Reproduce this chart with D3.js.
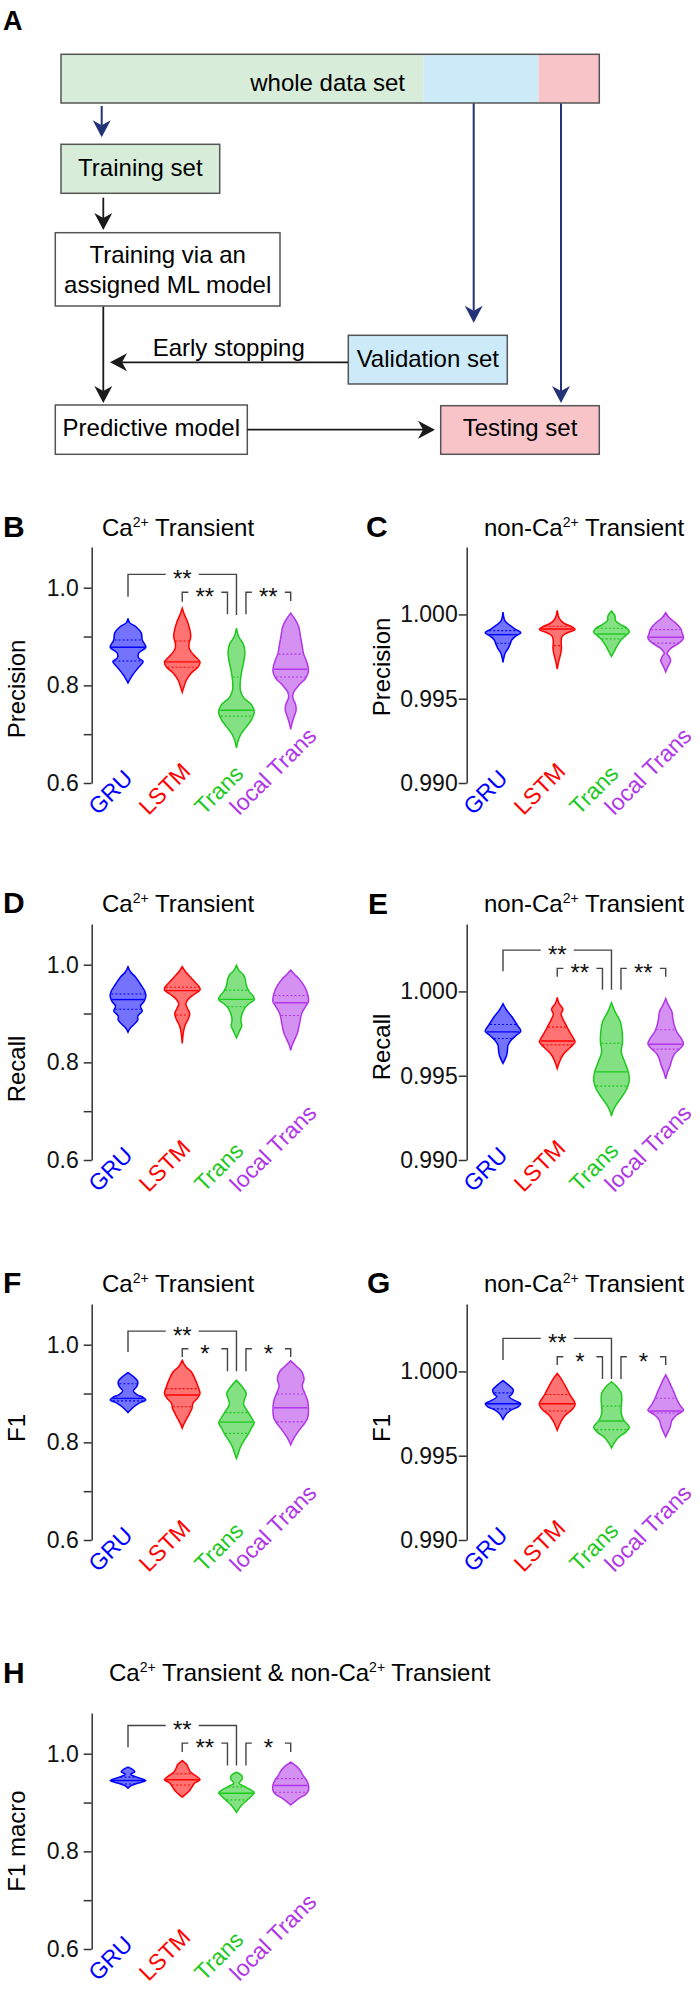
<!DOCTYPE html>
<html><head><meta charset="utf-8">
<script src="https://cdn.jsdelivr.net/npm/d3@7"></script>
<style>body{margin:0;background:#fff} svg{display:block} text{font-family:"Liberation Sans",Arial,Helvetica,sans-serif}</style>
</head><body><svg id="c" width="700" height="1991"></svg>
<script>
// ---------------- data ----------------
const categories = ["GRU","LSTM","Trans","local Trans"];
const catColors = ["#0000ff","#ff0000","#1ec81e","#b036e8"];
const leftTicks = [0.6,0.7,0.8,0.9,1.0];
const leftTickLabels = ["0.6","","0.8","","1.0"];
const rightTicks = [0.990,0.995,1.000];
const rightTickLabels = ["0.990","0.995","1.000"];

// violin profiles: [value, relative half-width]; quartiles: [q3, median, q1]
const precCaShapes = [
 [[0.937,0],[0.928,0.1],[0.92,0.45],[0.907,0.75],[0.893,0.8],[0.878,1],[0.866,0.6],[0.856,0.6],[0.849,0.85],[0.835,0.55],[0.818,0.2],[0.805,0]],
 [[0.958,0],[0.945,0.12],[0.93,0.3],[0.915,0.42],[0.9,0.48],[0.885,0.38],[0.875,0.4],[0.862,0.65],[0.848,1],[0.838,0.9],[0.825,0.5],[0.81,0.22],[0.795,0.08],[0.786,0]],
 [[0.917,0],[0.9,0.12],[0.885,0.38],[0.87,0.47],[0.85,0.42],[0.83,0.3],[0.81,0.22],[0.79,0.22],[0.775,0.4],[0.76,0.85],[0.745,1],[0.73,0.85],[0.715,0.55],[0.7,0.25],[0.685,0.08],[0.672,0]],
 [[0.948,0],[0.935,0.25],[0.92,0.45],[0.9,0.55],[0.88,0.65],[0.865,0.72],[0.85,0.88],[0.83,1],[0.815,0.85],[0.8,0.45],[0.785,0.15],[0.775,0.12],[0.76,0.28],[0.748,0.3],[0.735,0.18],[0.72,0.06],[0.71,0]]
];
const precCaQuart = [[0.893,0.878,0.850],[0.891,0.848,0.837],[0.817,0.749,0.737],[0.864,0.833,0.817]];
const precCaSig = [["GRU","Trans","**",1.0273,0.9816,0.9443],["LSTM","Trans","**",0.9906,0.9714,0.9457],["Trans","local Trans","**",0.9906,0.9457,0.9729]];

const precNonShapes = [
 [[1.00014,0],[0.9996,0.12],[0.99935,0.4],[0.99912,0.7],[0.99892,1],[0.9987,0.7],[0.9985,0.5],[0.9983,0.42],[0.998,0.3],[0.9977,0.12],[0.99715,0]],
 [[1.00024,0],[0.9998,0.1],[0.9995,0.35],[0.99925,0.85],[0.9991,1],[0.9989,0.55],[0.9987,0.28],[0.9984,0.22],[0.998,0.24],[0.9977,0.2],[0.9972,0.08],[0.99675,0]],
 [[1.0002,0],[0.9999,0.2],[0.99965,0.22],[0.9994,0.5],[0.9992,0.85],[0.99895,1],[0.9987,0.75],[0.9985,0.55],[0.9982,0.35],[0.9979,0.2],[0.99751,0]],
 [[1.0001,0],[0.9998,0.2],[0.9995,0.55],[0.99915,0.85],[0.9989,0.92],[0.9986,1],[0.9983,0.75],[0.998,0.3],[0.99768,0.08],[0.9975,0.2],[0.99725,0.28],[0.9969,0.12],[0.99659,0]]
];
const precNonQuart = [[0.99904,0.99880,0.99829],[0.9993,0.99914,0.99815],[0.99918,0.99884,0.99855],[0.9991,0.99865,0.9983]];
const precNonSig = [];

const recCaShapes = [
 [[0.996,0],[0.985,0.15],[0.975,0.42],[0.96,0.7],[0.945,0.95],[0.935,1],[0.925,0.9],[0.915,0.7],[0.905,0.8],[0.895,0.55],[0.887,0.55],[0.878,0.35],[0.87,0.12],[0.862,0]],
 [[0.996,0],[0.985,0.2],[0.975,0.45],[0.965,0.7],[0.955,0.95],[0.948,1],[0.94,0.7],[0.93,0.35],[0.92,0.2],[0.91,0.3],[0.9,0.42],[0.89,0.35],[0.875,0.15],[0.86,0.06],[0.839,0]],
 [[0.999,0],[0.988,0.15],[0.98,0.38],[0.97,0.5],[0.958,0.55],[0.945,0.72],[0.935,0.95],[0.928,1],[0.92,0.7],[0.91,0.45],[0.895,0.28],[0.885,0.25],[0.875,0.3],[0.865,0.18],[0.85,0]],
 [[0.989,0],[0.98,0.22],[0.97,0.5],[0.955,0.78],[0.94,0.95],[0.925,1],[0.915,0.85],[0.9,0.62],[0.88,0.5],[0.86,0.38],[0.845,0.2],[0.835,0.08],[0.8245,0]]
];
const recCaQuart = [[0.94,0.9286,0.9088],[0.9537,0.947,0.897],[0.948,0.929,0.914],[0.937,0.922,0.896]];
const recCaSig = [];

const recNonShapes = [
 [[0.99927,0],[0.9989,0.2],[0.9985,0.5],[0.998,0.8],[0.99765,1],[0.9974,0.75],[0.9971,0.45],[0.9968,0.28],[0.9965,0.25],[0.9962,0.2],[0.99573,0]],
 [[0.99965,0],[0.9993,0.1],[0.99895,0.32],[0.99865,0.22],[0.9983,0.35],[0.998,0.5],[0.9976,0.7],[0.9972,0.92],[0.997,1],[0.9968,0.85],[0.9965,0.55],[0.9962,0.3],[0.9958,0.12],[0.99542,0]],
 [[0.99933,0],[0.9988,0.2],[0.9982,0.5],[0.9976,0.6],[0.997,0.62],[0.9964,0.55],[0.9958,0.75],[0.9952,0.95],[0.9947,1],[0.9942,0.85],[0.9937,0.55],[0.9932,0.22],[0.9929,0.08],[0.9926,0]],
 [[0.99958,0],[0.9992,0.15],[0.9988,0.35],[0.9984,0.4],[0.998,0.48],[0.9976,0.62],[0.9972,0.88],[0.9969,1],[0.9966,0.8],[0.9963,0.5],[0.996,0.36],[0.9956,0.25],[0.9952,0.1],[0.99481,0]]
];
const recNonQuart = [[0.99804,0.9976,0.99721],[0.99788,0.99706,0.99683],[0.99692,0.99523,0.99438],[0.99773,0.99687,0.99658]];
const recNonSig = [["GRU","Trans","**",1.00245,1.0012,1.0001],["LSTM","Trans","**",1.00137,1.00087,1.0001],["Trans","local Trans","**",1.00137,1.0001,1.00087]];

const f1CaShapes = [
 [[0.943,0],[0.935,0.3],[0.925,0.55],[0.915,0.5],[0.905,0.3],[0.898,0.5],[0.892,0.85],[0.887,1],[0.88,0.6],[0.872,0.3],[0.861,0]],
 [[0.968,0],[0.955,0.2],[0.945,0.5],[0.93,0.72],[0.915,0.88],[0.9,1],[0.89,0.85],[0.88,0.6],[0.87,0.55],[0.86,0.42],[0.848,0.25],[0.838,0.1],[0.829,0]],
 [[0.927,0],[0.915,0.3],[0.9,0.55],[0.888,0.45],[0.878,0.4],[0.865,0.6],[0.85,0.85],[0.84,1],[0.83,0.85],[0.818,0.68],[0.805,0.45],[0.79,0.22],[0.775,0.08],[0.767,0]],
 [[0.967,0],[0.955,0.35],[0.945,0.62],[0.93,0.75],[0.915,0.65],[0.9,0.8],[0.885,0.95],[0.865,1],[0.85,0.95],[0.84,0.8],[0.825,0.48],[0.81,0.2],[0.795,0]]
];
const f1CaQuart = [[0.92,0.89,0.885],[0.91,0.897,0.873],[0.861,0.8415,0.8184],[0.899,0.871,0.842]];
const f1CaSig = [["GRU","Trans","**",1.0278,0.985,0.9455],["LSTM","Trans","*",0.9918,0.9747,0.9455],["Trans","local Trans","*",0.9918,0.9455,0.9747]];

const f1NonShapes = [
 [[0.99945,0],[0.9992,0.3],[0.9989,0.58],[0.99865,0.5],[0.9985,0.35],[0.99825,0.7],[0.99808,1],[0.9979,0.85],[0.9977,0.45],[0.9975,0.2],[0.99716,0]],
 [[0.99988,0],[0.9996,0.2],[0.9992,0.42],[0.9988,0.62],[0.9985,0.78],[0.9982,0.97],[0.998,1],[0.9977,0.8],[0.9974,0.45],[0.997,0.2],[0.99651,0]],
 [[0.99939,0],[0.9991,0.3],[0.9987,0.55],[0.9983,0.58],[0.9979,0.55],[0.9975,0.55],[0.9971,0.7],[0.9967,1],[0.9964,0.8],[0.9961,0.4],[0.9957,0.12],[0.99547,0]],
 [[0.9998,0],[0.9995,0.15],[0.9991,0.32],[0.9988,0.45],[0.9984,0.6],[0.998,0.8],[0.9977,1],[0.9974,0.6],[0.9971,0.35],[0.9967,0.25],[0.99612,0]]
];
const f1NonQuart = [[0.99873,0.99808,0.99778],[0.99863,0.99808,0.99765],[0.99794,0.99706,0.99655],[0.99841,0.99765,0.99753]];
const f1NonSig = [["GRU","Trans","**",1.00196,1.00068,0.99955],["LSTM","Trans","*",1.00087,1.00038,0.99955],["Trans","local Trans","*",1.00087,0.99955,1.00038]];

const f1MacroShapes = [
 [[0.9726,0],[0.968,0.25],[0.963,0.38],[0.958,0.15],[0.953,0.4],[0.945,1],[0.94,0.6],[0.935,0.2],[0.9295,0]],
 [[0.986,0],[0.978,0.25],[0.97,0.35],[0.962,0.48],[0.955,0.75],[0.947,1],[0.94,0.7],[0.932,0.55],[0.922,0.35],[0.911,0]],
 [[0.962,0],[0.955,0.3],[0.948,0.32],[0.94,0.15],[0.933,0.45],[0.925,0.85],[0.92,1],[0.912,0.8],[0.905,0.6],[0.895,0.3],[0.88,0]],
 [[0.983,0],[0.975,0.3],[0.965,0.55],[0.955,0.7],[0.945,0.9],[0.935,1],[0.925,1],[0.917,0.85],[0.908,0.45],[0.895,0]]
];
const f1MacroQuart = [[0.952,0.945,0.938],[0.959,0.9466,0.936],[0.932,0.919,0.9055],[0.949,0.935,0.921]];
const f1MacroSig = [["GRU","Trans","**",1.0578,1.0135,0.976],["LSTM","Trans","**",1.0216,1.0033,0.976],["Trans","local Trans","*",1.0216,0.976,1.0033]];

// flowchart content
const splitNames = ["whole data set","",""];
const splitFractions = [0.673,0.214,0.113];
const splitColors = ["#d7edda","#cdeaf8","#f8c4c8"];

// ---------------- drawing ----------------
const svg = d3.select("#c");
const FONT = '"Liberation Sans", Arial, Helvetica, sans-serif';

// ---- Panel A: flowchart ----
const A = svg.append("g");
A.append("text").attr("x",3).attr("y",29.5).attr("font-size",27).attr("font-weight","bold").text("A");

const barX = d3.scaleLinear().domain([0,1]).range([61,599.3]);
const barY0 = 54.3, barH = 48.7;
let acc = 0;
splitFractions.forEach((f,i)=>{
  A.append("rect").attr("x",barX(acc)).attr("y",barY0).attr("width",barX(acc+f)-barX(acc)).attr("height",barH).attr("fill",splitColors[i]);
  acc += f;
});
A.append("rect").attr("x",barX(0)).attr("y",barY0).attr("width",barX(1)-barX(0)).attr("height",barH).attr("fill","none").attr("stroke","#555").attr("stroke-width",1.5);
A.append("text").attr("x",405).attr("y",90.7).attr("text-anchor","end").attr("font-size",24).text(splitNames[0]);

const boxes = [
  {x:61,y:144.3,w:158.7,h:49,fill:splitColors[0],lines:["Training set"],base:[176]},
  {x:55.3,y:232.7,w:224.7,h:73.3,fill:"#fff",lines:["Training via an","assigned ML model"],base:[263.3,292.7]},
  {x:348.3,y:335.3,w:159,h:48.7,fill:splitColors[1],lines:["Validation set"],base:[366.7]},
  {x:55.3,y:405,w:192,h:49.3,fill:"#fff",lines:["Predictive model"],base:[436]},
  {x:440.7,y:405.7,w:158.6,h:48.6,fill:splitColors[2],lines:["Testing set"],base:[436]}
];
boxes.forEach(b=>{
  A.append("rect").attr("x",b.x).attr("y",b.y).attr("width",b.w).attr("height",b.h).attr("fill",b.fill).attr("stroke","#555").attr("stroke-width",1.5);
  b.lines.forEach((l,i)=>A.append("text").attr("x",b.x+b.w/2).attr("y",b.base[i]).attr("text-anchor","middle").attr("font-size",24).text(l));
});
A.append("text").attr("x",152.7).attr("y",356).attr("font-size",24).text("Early stopping");

function arrow(x1,y1,x2,y2,color,w){
  const dx=x2-x1, dy=y2-y1, L=Math.hypot(dx,dy), ux=dx/L, uy=dy/L, px=-uy, py=ux;
  const hl=17, hw=9, notch=12;
  A.append("line").attr("x1",x1).attr("y1",y1).attr("x2",x2-ux*notch).attr("y2",y2-uy*notch).attr("stroke",color).attr("stroke-width",w);
  const pts=[[x2,y2],[x2-ux*hl+px*hw,y2-uy*hl+py*hw],[x2-ux*notch,y2-uy*notch],[x2-ux*hl-px*hw,y2-uy*hl-py*hw]];
  A.append("path").attr("d","M"+pts.map(p=>p.join(",")).join("L")+"Z").attr("fill",color);
}
const NAVY="#233377", BLK="#1a1a1a";
arrow(101.7,106,101.7,137.3,NAVY,2);
arrow(473.7,103.5,473.7,322.7,NAVY,2);
arrow(561,103.5,561,403,NAVY,2);
arrow(103.3,197.7,103.3,230,BLK,1.8);
arrow(103.3,306.5,103.3,403,BLK,1.8);
arrow(348,362.3,110,362.3,BLK,1.8);
arrow(247.3,429.7,435,429.7,BLK,1.8);

// ---- violin panels ----
function titleText(g,x,y,parts,size){
  const t=g.append("text").attr("x",x).attr("y",y).attr("font-size",size);
  parts.forEach(p=>{
    if(p.sup){ t.append("tspan").attr("dy",-9).attr("font-size",14).text(p.t); }
    else if(p.after){ t.append("tspan").attr("dy",9).text(p.t); }
    else t.append("tspan").text(p.t);
  });
}
const CA = [{t:"Ca"},{t:"2+",sup:true},{t:" Transient",after:true}];
const NONCA = [{t:"non-Ca"},{t:"2+",sup:true},{t:" Transient",after:true}];
const BOTH = [{t:"Ca"},{t:"2+",sup:true},{t:" Transient & non-Ca",after:true},{t:"2+",sup:true},{t:" Transient",after:true}];

const panels = [
 {L:"B",lx:3,ax:91.7,top:547,title:CA,ylab:"Precision",ylc:689,side:"left",shapes:precCaShapes,quart:precCaQuart,sig:precCaSig,tb:536,lb:537},
 {L:"C",lx:366,ax:466.7,top:547,title:NONCA,ylab:"Precision",ylc:667,side:"right",shapes:precNonShapes,quart:precNonQuart,sig:precNonSig,tb:536,lb:537},
 {L:"D",lx:3,ax:91.7,top:924,title:CA,ylab:"Recall",ylc:1069,side:"left",shapes:recCaShapes,quart:recCaQuart,sig:recCaSig,tb:912.3,lb:913},
 {L:"E",lx:368,ax:466.7,top:924,title:NONCA,ylab:"Recall",ylc:1047,side:"right",shapes:recNonShapes,quart:recNonQuart,sig:recNonSig,tb:912.3,lb:914},
 {L:"F",lx:3,ax:91.7,top:1304,title:CA,ylab:"F1",ylc:1428,side:"left",shapes:f1CaShapes,quart:f1CaQuart,sig:f1CaSig,tb:1291.7,lb:1293},
 {L:"G",lx:367,ax:466.7,top:1304,title:NONCA,ylab:"F1",ylc:1428,side:"right",shapes:f1NonShapes,quart:f1NonQuart,sig:f1NonSig,tb:1291.7,lb:1293},
 {L:"H",lx:3,ax:91.7,top:1713,title:BOTH,ylab:"F1 macro",ylc:1841,side:"left",shapes:f1MacroShapes,quart:f1MacroQuart,sig:f1MacroSig,tb:1680.7,lb:1683,tx:109}
];

const PH = 236, HW = 17.8;
function interpW(prof,v){
  for(let i=0;i<prof.length-1;i++){
    const a=prof[i], b=prof[i+1];
    if(v<=a[0] && v>=b[0]){ const t=(a[0]-v)/(a[0]-b[0]); return a[1]+(b[1]-a[1])*t; }
  }
  return 0;
}

panels.forEach(p=>{
  const g = svg.append("g");
  const left = p.side==="left";
  const dom = left ? [0.6,1.0834] : [0.990,1.004];
  const y = d3.scaleLinear().domain(dom).range([p.top+PH,p.top]);
  const x = d3.scalePoint().domain(categories).range([p.ax+36.3,p.ax+199]);

  g.append("text").attr("x",p.lx).attr("y",p.lb).attr("font-size",30).attr("font-weight","bold").text(p.L);
  titleText(g, p.tx || (left?102:484), p.tb, p.title, 24);

  const ticks = left?leftTicks:rightTicks, labs = left?leftTickLabels:rightTickLabels;
  const axis = d3.axisLeft(y).tickValues(ticks).tickSize(8).tickSizeOuter(0).tickPadding(left?5:1)
     .tickFormat((d,i)=>labs[i]);
  const ag = g.append("g").attr("transform",`translate(${p.ax},0)`).call(axis);
  ag.select(".domain").attr("stroke","#333").attr("stroke-width",1.5);
  ag.selectAll(".tick line").attr("stroke","#333").attr("stroke-width",1.5);
  ag.selectAll(".tick text").attr("font-size",23).attr("fill","#111").style("font-family",FONT);

  g.append("text").attr("transform",`translate(${left?25:390},${p.ylc}) rotate(-90)`).attr("text-anchor","middle").attr("font-size",24).text(p.ylab);

  // violins
  const area = d3.area().curve(d3.curveCatmullRom.alpha(0.5)).y(d=>y(d[0]));
  categories.forEach((c,i)=>{
    const cx=x(c), col=catColors[i], prof=p.shapes[i];
    g.append("path").attr("d", area.x0(d=>cx-d[1]*HW).x1(d=>cx+d[1]*HW)(prof))
      .attr("fill",col).attr("fill-opacity",0.55).attr("stroke",col).attr("stroke-width",1.5);
    p.quart[i].forEach((q,k)=>{
      const w = Math.max(0, interpW(prof,q)*HW - 0.8);
      g.append("line").attr("x1",cx-w).attr("x2",cx+w).attr("y1",y(q)).attr("y2",y(q))
        .attr("stroke",col).attr("stroke-width",k===1?1.4:1.1).attr("stroke-dasharray",k===1?null:"2,2");
    });
    // category label: bottoms aligned, horizontally centred slightly left of the category
    const lab = g.append("text").attr("font-size",23).attr("fill",col).text(c);
    const w = lab.node().getComputedTextLength();
    const sx = cx - 12 - 0.354*w, sy = p.top + PH + 33;
    lab.attr("transform",`translate(${sx},${sy}) rotate(-45)`);
  });

  // significance brackets
  p.sig.forEach(s=>{
    const ia=categories.indexOf(s[0]), ib=categories.indexOf(s[1]);
    let xa=x(s[0]), xb=x(s[1]);
    if(ib-ia===1){ if(s[0]==="Trans") xa+=9.5; if(s[1]==="Trans") xb-=9; }
    const yt=y(s[3]), ya=y(s[4]), yb=y(s[5]), mid=(xa+xb)/2, gap=16.5;
    g.append("path").attr("d",`M${xa},${ya}V${yt}H${mid-gap}M${mid+gap},${yt}H${xb}V${yb}`)
      .attr("fill","none").attr("stroke","#444").attr("stroke-width",1.4);
    g.append("text").attr("x",mid).attr("y",yt+13).attr("text-anchor","middle").attr("font-size",24).attr("fill","#111").text(s[2]);
  });
});
</script></body></html>
